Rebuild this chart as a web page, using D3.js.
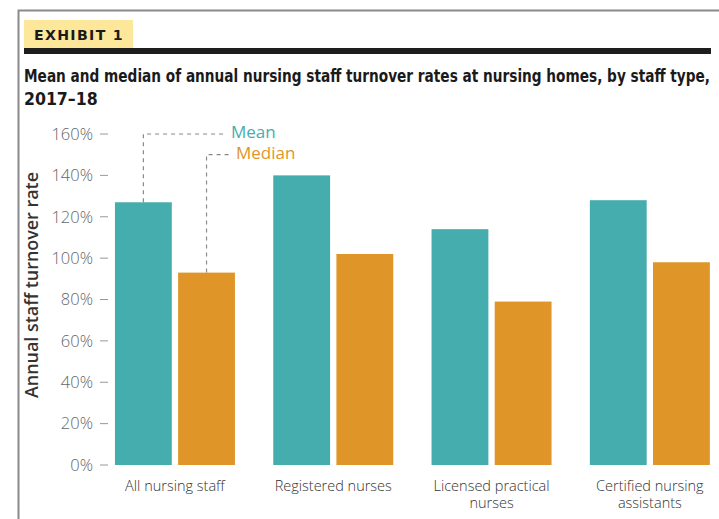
<!DOCTYPE html>
<html>
<head>
<meta charset="utf-8">
<script src="https://d3js.org/d3.v7.min.js"></script>
<style>
  body { margin: 0; background: #fff; }
  svg { display: block; }
  .tick-label { font-family: "Open Sans", sans-serif; font-weight: 300; font-size: 16.5px; fill: #666; }
  .cat-label { font-family: "Open Sans", sans-serif; font-weight: 300; font-size: 14.5px; fill: #333; }
</style>
</head>
<body>
<script>
// data
var categories = [["All nursing staff"], ["Registered nurses"], ["Licensed practical", "nurses"], ["Certified nursing", "assistants"]];
var meanValues = [127, 140, 114, 128];
var medianValues = [93, 102, 79, 98];
var yTicks = [0, 20, 40, 60, 80, 100, 120, 140, 160];
var seriesNames = ["Mean", "Median"];

var colorset = ["#46adaf", "#df9528"];

var width = 719, height = 519;

var svg = d3.select("body").append("svg")
  .attr("width", width)
  .attr("height", height);

// frame
svg.append("path")
  .attr("d", "M18.5," + height + " V10.5 H" + width)
  .attr("fill", "none")
  .attr("stroke", "#8a8a8a")
  .attr("stroke-width", 2);

// exhibit tag + black rule
svg.append("rect").attr("x", 24).attr("y", 20).attr("width", 109).attr("height", 29).attr("fill", "#fde79a");
svg.append("rect").attr("x", 24).attr("y", 48).attr("width", 687).attr("height", 6).attr("fill", "#1e1e1e");
svg.append("text")
  .attr("x", 34).attr("y", 40)
  .attr("font-family", "DejaVu Sans")
  .attr("font-weight", "bold")
  .attr("font-size", 14)
  .attr("letter-spacing", 1.3)
  .attr("fill", "#1a1a1a")
  .attr("textLength", 90)
  .attr("lengthAdjust", "spacingAndGlyphs")
  .text("EXHIBIT 1");

// title
var titleLines = ["Mean and median of annual nursing staff turnover rates at nursing homes, by staff type,", "2017–18"];
svg.append("text")
  .attr("x", 24).attr("y", 82)
  .attr("font-family", "DejaVu Sans Condensed, DejaVu Sans")
  .attr("font-weight", "bold")
  .attr("font-size", 17.5)
  .attr("fill", "#1a1a1a")
  .attr("textLength", 686)
  .attr("lengthAdjust", "spacingAndGlyphs")
  .text(titleLines[0]);
svg.append("text")
  .attr("x", 24).attr("y", 105)
  .attr("font-family", "DejaVu Sans Condensed, DejaVu Sans")
  .attr("font-weight", "bold")
  .attr("font-size", 17.5)
  .attr("fill", "#1a1a1a")
  .text(titleLines[1]);

// scales
var yScale = d3.scaleLinear().domain([0, 160]).range([465, 134]);
var xScale = d3.scaleBand()
  .domain(d3.range(categories.length))
  .range([95.8, 729])
  .paddingInner(0.242)
  .paddingOuter(0.121);
var xSub = d3.scaleBand()
  .domain([0, 1])
  .range([0, xScale.bandwidth()])
  .paddingInner(0.1);

// y axis (ticks + labels)
var yAxis = svg.append("g");
yAxis.selectAll("line").data(yTicks).enter().append("line")
  .attr("x1", 100).attr("x2", 108)
  .attr("y1", function(d){ return yScale(d); })
  .attr("y2", function(d){ return yScale(d); })
  .attr("stroke", "#999")
  .attr("stroke-width", 1);
yAxis.selectAll("text").data(yTicks).enter().append("text")
  .attr("class", "tick-label")
  .attr("x", 93)
  .attr("y", function(d){ return yScale(d); })
  .attr("dy", "0.35em")
  .attr("text-anchor", "end")
  .text(function(d){ return d + "%"; });

svg.append("text")
  .attr("transform", "translate(38," + 285 + ") rotate(-90)")
  .attr("text-anchor", "middle")
  .attr("font-family", "Open Sans, sans-serif")
  .attr("font-weight", 600)
  .attr("font-size", 17.5)
  .attr("fill", "#333")
  .attr("textLength", 226)
  .attr("lengthAdjust", "spacingAndGlyphs")
  .text("Annual staff turnover rate");

// bars
var series = [meanValues, medianValues];
var groups = svg.selectAll(".grp").data(categories).enter().append("g")
  .attr("class", "grp")
  .attr("transform", function(d, i){ return "translate(" + xScale(i) + ",0)"; });

groups.each(function(d, i){
  var g = d3.select(this);
  series.forEach(function(vals, s){
    g.append("rect")
      .attr("x", xSub(s))
      .attr("y", yScale(vals[i]))
      .attr("width", xSub.bandwidth())
      .attr("height", yScale(0) - yScale(vals[i]))
      .attr("fill", colorset[s]);
  });
  d.forEach(function(line, k){
    g.append("text")
      .attr("class", "cat-label")
      .attr("x", xScale.bandwidth() / 2)
      .attr("y", 491 + k * 17)
      .attr("text-anchor", "middle")
      .text(line);
  });
});

// legend callouts
var legendLevels = [160, 150];
var legendEnds = [224, 229];
series.forEach(function(vals, s){
  var cx = xScale(0) + xSub(s) + xSub.bandwidth() / 2;
  var ly = yScale(legendLevels[s]);
  svg.append("path")
    .attr("d", "M" + cx + "," + yScale(vals[0]) + " V" + ly + " H" + legendEnds[s])
    .attr("fill", "none")
    .attr("stroke", "#8a8a8a")
    .attr("stroke-width", 1.2)
    .attr("stroke-dasharray", "4,4");
  svg.append("text")
    .attr("x", legendEnds[s] + 7)
    .attr("y", ly - 2)
    .attr("dy", "0.35em")
    .attr("font-family", "Open Sans, sans-serif")
    .attr("font-size", 17)
    .attr("fill", colorset[s])
    .text(seriesNames[s]);
});
</script>
</body>
</html>
